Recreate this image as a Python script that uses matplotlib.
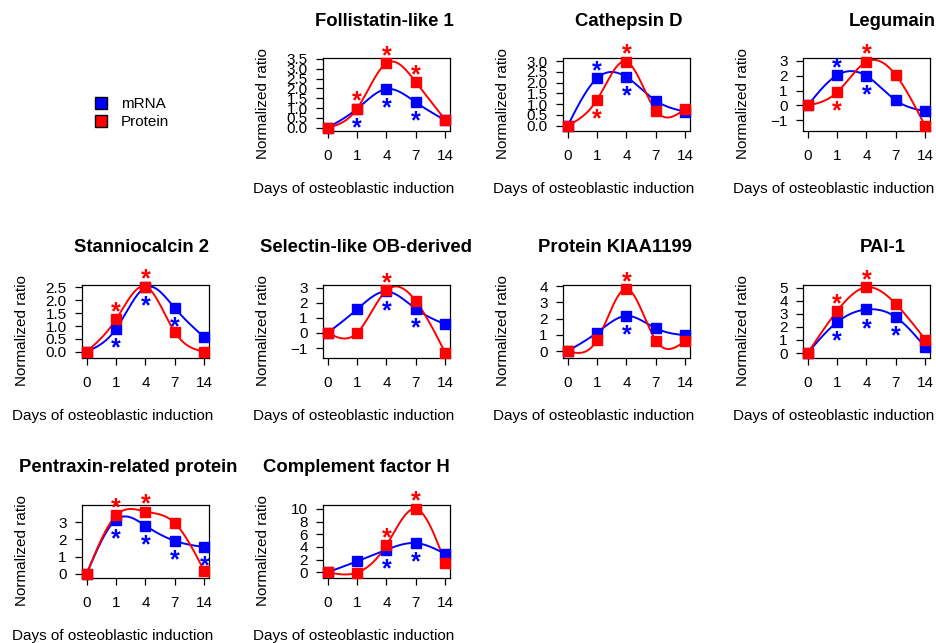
import numpy as np
import matplotlib
matplotlib.use('Agg')
from matplotlib import pyplot as plt
from matplotlib.patches import Patch
from matplotlib.ticker import FormatStrFormatter

plt.rcParams['font.family'] = ['Liberation Sans', 'DejaVu Sans']

# x axis categories (days)
days = ['0', '1', '4', '7', '14']

titles = ['Follistatin-like 1', 'Cathepsin D', 'Legumain',
          'Stanniocalcin 2', 'Selectin-like OB-derived', 'Protein KIAA1199', 'PAI-1',
          'Pentraxin-related protein', 'Complement factor H']

# normalized ratios
mrna = [
    [0, 0.96, 1.97, 1.29, 0.37],
    [0, 2.21, 2.26, 1.16, 0.65],
    [0, 2.04, 1.99, 0.34, -0.39],
    [0, 0.89, 2.50, 1.69, 0.56],
    [0, 1.57, 2.75, 1.59, 0.57],
    [0, 1.14, 2.17, 1.40, 0.97],
    [0, 2.36, 3.33, 2.74, 0.44],
    [0, 3.14, 2.79, 1.91, 1.55],
    [0, 1.73, 3.56, 4.60, 2.88],
]
protein = [
    [0, 0.97, 3.29, 2.32, 0.39],
    [0, 1.21, 2.98, 0.70, 0.79],
    [0, 0.89, 2.95, 2.04, -1.40],
    [0, 1.26, 2.53, 0.76, 0.00],
    [0, 0.00, 2.82, 2.11, -1.32],
    [0, 0.69, 3.84, 0.65, 0.63],
    [0, 3.21, 5.03, 3.74, 1.03],
    [0, 3.39, 3.62, 2.94, 0.15],
    [0, -0.05, 4.29, 10.0, 1.47],
]
# significance stars: 1 = above the point, -1 = below, 0 = none
mrna_star = [
    [0, -1, -1, -1, 0],
    [0, 1, -1, 0, 0],
    [0, 1, -1, 0, 0],
    [0, -1, -1, -1, 0],
    [0, 0, -1, -1, 0],
    [0, 0, -1, 0, 0],
    [0, -1, -1, -1, 0],
    [0, -1, -1, -1, -1],
    [0, 0, -1, -1, 0],
]
protein_star = [
    [0, 1, 1, 1, 0],
    [0, -1, 1, 0, 0],
    [0, -1, 1, 0, 0],
    [0, 1, 1, 0, 0],
    [0, 0, 1, 0, 0],
    [0, 0, 1, 0, 0],
    [0, 1, 1, 0, 0],
    [0, 1, 1, 0, 0],
    [0, 0, 1, 1, 0],
]
yticks = [
    [0, 0.5, 1, 1.5, 2, 2.5, 3, 3.5],
    [0, 0.5, 1, 1.5, 2, 2.5, 3],
    [-1, 0, 1, 2, 3],
    [0, 0.5, 1, 1.5, 2, 2.5],
    [-1, 0, 1, 2, 3],
    [0, 1, 2, 3, 4],
    [0, 1, 2, 3, 4, 5],
    [0, 1, 2, 3],
    [0, 2, 4, 6, 8, 10],
]
ylims = [(-0.17, 3.55), (-0.25, 3.15), (-1.72, 3.2), (-0.24, 2.59), (-1.66, 3.18),
         (-0.43, 4.08), (-0.38, 5.2), (-0.25, 4.0), (-0.9, 10.6)]


def natural_spline(y, xs):
    # natural cubic spline through points at x = 0, 1, ..., n-1
    y = np.asarray(y, dtype=float)
    n = len(y)
    A = np.zeros((n, n))
    rhs = np.zeros(n)
    A[0, 0] = A[-1, -1] = 1.0
    for i in range(1, n - 1):
        A[i, i - 1:i + 2] = [1.0, 4.0, 1.0]
        rhs[i] = 6.0 * (y[i + 1] - 2 * y[i] + y[i - 1])
    M = np.linalg.solve(A, rhs)
    i = np.clip(np.floor(xs).astype(int), 0, n - 2)
    t = xs - i
    u = 1 - t
    return (y[i] * u + y[i + 1] * t
            + (M[i] * (u ** 3 - u) + M[i + 1] * (t ** 3 - t)) / 6.0)


W, H = 936, 643
fig = plt.figure(figsize=(W / 100, H / 100), dpi=100)

col_left = [82, 323, 563, 803]
row_top = [58, 285, 505]
title_x = [384, 629, 892, 142, 366, 615, 883, 128, 356]
slots = [(0, 1), (0, 2), (0, 3), (1, 0), (1, 1), (1, 2), (1, 3), (2, 0), (2, 1)]
aw, ah = 127, 73

xpos = np.arange(len(days))
xs = np.linspace(0, len(days) - 1, 300)

for k, (r, c) in enumerate(slots):
    left, top = col_left[c], row_top[r]
    ax = fig.add_axes([left / W, 1 - (top + ah) / H, aw / W, ah / H])
    for vals, stars, col in [(mrna[k], mrna_star[k], 'blue'), (protein[k], protein_star[k], 'red')]:
        ax.plot(xs, natural_spline(vals, xs), color=col, lw=1.4, clip_on=False)
        ax.plot(xpos, vals, 's', color=col, ms=7, clip_on=False, zorder=3)
        for xi, v, s in zip(xpos, vals, stars):
            if s != 0:
                off = 0 if s > 0 else -19
                ax.annotate('*', (xi, v), xytext=(0, off), textcoords='offset points',
                            ha='center', va='baseline', color=col, fontsize=18,
                            fontweight='bold', annotation_clip=False)
    ax.set_xlim(-0.16, len(days) - 1 + 0.16)
    ax.set_ylim(*ylims[k])
    ax.set_xticks(xpos)
    ax.set_xticklabels(days)
    ax.set_yticks(yticks[k])
    if any(t != int(t) for t in yticks[k]):
        ax.yaxis.set_major_formatter(FormatStrFormatter('%.1f'))
    ax.tick_params(labelsize=11, length=5, width=0.9, pad=6)
    ax.tick_params(axis='x', pad=8)
    for sp in ax.spines.values():
        sp.set_linewidth(0.9)
    ax.set_xlabel('Days of osteoblastic induction', fontsize=11)
    ax.xaxis.label.set_va('center')
    ax.xaxis.set_label_coords(0.245, -58 / ah)
    ax.set_ylabel('Normalized ratio', fontsize=11)
    ax.yaxis.label.set_va('center')
    ax.yaxis.set_label_coords(-60 / aw, 0.5 - 9 / ah)
    fig.text(title_x[k] / W, 1 - (top - 37) / H, titles[k], fontsize=13.3,
             fontweight='bold', ha='center', va='center')

handles = [Patch(facecolor='blue', edgecolor='black'), Patch(facecolor='red', edgecolor='black')]
fig.legend(handles, ['mRNA', 'Protein'], loc='center left',
           bbox_to_anchor=(95 / W, 1 - 113 / H), frameon=False, fontsize=11,
           handlelength=0.8, handleheight=0.8, handletextpad=0.9,
           labelspacing=0.25, borderpad=0, borderaxespad=0)

fig.savefig('out.png', dpi=100)
